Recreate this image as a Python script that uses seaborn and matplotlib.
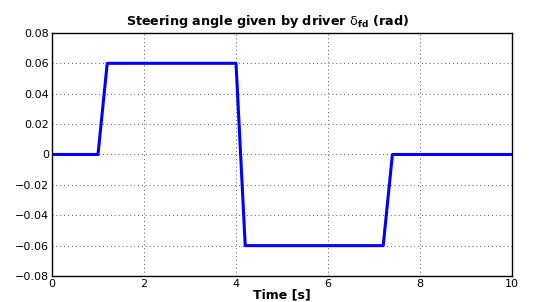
import numpy as np
import pandas as pd
import matplotlib
matplotlib.use("Agg")
import matplotlib.pyplot as plt
import seaborn as sns

# breakpoints of the driver steering input
time_s = [0.0, 1.0, 1.2, 4.0, 4.2, 7.2, 7.4, 10.0]
delta_fd = [0.0, 0.0, 0.06, 0.06, -0.06, -0.06, 0.0, 0.0]

x_ticks = [0, 2, 4, 6, 8, 10]
y_ticks = [-0.08, -0.06, -0.04, -0.02, 0, 0.02, 0.04, 0.06, 0.08]

df = pd.DataFrame({"Time": time_s, "Delta": delta_fd})

sns.set_style("white")
plt.rcParams['font.family'] = ['DejaVu Sans']
plt.rcParams['mathtext.fontset'] = 'dejavusans'
plt.rcParams['text.color'] = 'black'
plt.rcParams['xtick.color'] = 'black'
plt.rcParams['ytick.color'] = 'black'
plt.rcParams['axes.labelcolor'] = 'black'

fig = plt.figure(figsize=(5.33, 3.02), dpi=100)
ax = fig.add_axes([0.0976, 0.086, 0.8630, 0.805])

sns.lineplot(data=df, x="Time", y="Delta", ax=ax, color="#0000ff", linewidth=2.2, sort=False)

ax.set_xlim(0, 10)
ax.set_ylim(-0.08, 0.08)
ax.set_xticks(x_ticks)
ax.set_yticks(y_ticks)
ax.set_yticklabels(["0" if v == 0 else f"{v:.2f}".replace("-", "\u2212") for v in y_ticks])
ax.tick_params(labelsize=8, direction="in", length=3, width=0.8, pad=2, colors="black")
ax.tick_params(axis="x", pad=2)
for s in ax.spines.values():
    s.set_linewidth(1.0)
    s.set_color("black")

ax.grid(True, linestyle=(0, (1, 3)), color="#555555", linewidth=0.7)

ax.set_xlabel("Time [s]", fontsize=9, fontweight="bold", labelpad=0, color="black")
ax.set_ylabel("")
ax.set_title(r"Steering angle given by driver $\mathrm{\delta}_{\mathbf{fd}}$ (rad)",
             fontsize=9.2, fontweight="bold", pad=6, x=0.468, color="black")

fig.savefig("out.png", dpi=100)
